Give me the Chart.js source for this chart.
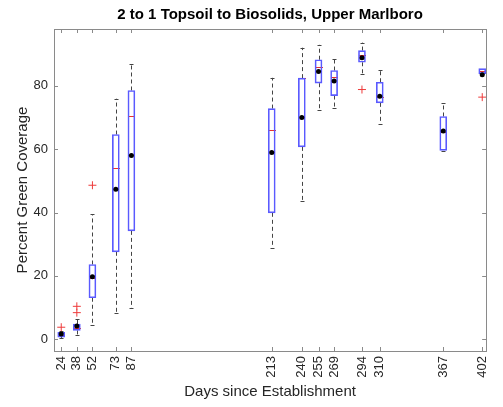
<!DOCTYPE html>
<html>
<head>
<meta charset="utf-8">
<script src="https://cdn.jsdelivr.net/npm/chart.js@4"></script>
<style>
  html, body { margin: 0; padding: 0; background: #fff; }
  #wrap { width: 503px; height: 407px; }
</style>
</head>
<body>
<div id="wrap"><canvas id="chart" width="503" height="407"></canvas></div>
<script>
// days since establishment, one box per sampling date
const days = [24, 38, 52, 73, 87, 213, 240, 255, 269, 294, 310, 367, 402];
const whiskerLow  = [0.3, 1.2, 4.5, 8.2, 9.8, 28.9, 43.6, 72.2, 73.1, 83.6, 68.0, 59.4, 83.8];
const q1          = [0.7, 2.8, 13.1, 27.6, 34.2, 39.9, 60.7, 80.8, 76.9, 87.4, 74.6, 59.6, 83.8];
const medians     = [1.2, 3.6, 19.2, 53.9, 70.3, 66.1, 82.4, 85.9, 82.9, 89.8, 76.6, 65.4, 84.6];
const q3          = [2.2, 4.8, 23.6, 64.6, 78.5, 72.8, 82.4, 88.2, 84.8, 91.1, 81.1, 70.3, 85.4];
const whiskerHigh = [2.6, 6.4, 39.4, 75.9, 86.9, 82.5, 92.0, 92.9, 88.5, 93.6, 85.1, 74.5, 85.4];
const means       = [1.7, 4.2, 19.7, 47.3, 58.0, 58.9, 70.0, 84.5, 81.5, 88.8, 76.7, 65.7, 83.5];
const outlierDays   = [24, 38, 38, 52, 294, 402];
const outlierValues = [3.8, 8.4, 10.4, 48.6, 78.8, 76.4];
const yTicks = [0, 20, 40, 60, 80];

const BOX_W = 7;
const textColor = '#262626';
const axisColor = '#8a8a8a';

// whiskers, caps, medians, axis frame and inward ticks
const boxPlotExtras = {
  id: 'boxPlotExtras',
  beforeDatasetsDraw(chart) {
    const { ctx, scales: { x, y } } = chart;
    ctx.save();
    ctx.lineWidth = 1;
    days.forEach((d, i) => {
      const px = Math.round(x.getPixelForValue(d)) + 0.5;
      const yLo = y.getPixelForValue(whiskerLow[i]);
      const yQ1 = y.getPixelForValue(q1[i]);
      const yQ3 = y.getPixelForValue(q3[i]);
      const yHi = y.getPixelForValue(whiskerHigh[i]);
      ctx.strokeStyle = '#444';
      ctx.setLineDash([4, 3]);
      ctx.beginPath();
      if (yLo - yQ1 > 1) { ctx.moveTo(px, yQ1); ctx.lineTo(px, yLo); }
      if (yQ3 - yHi > 1) { ctx.moveTo(px, yQ3); ctx.lineTo(px, yHi); }
      ctx.stroke();
      ctx.setLineDash([]);
      ctx.beginPath();
      ctx.moveTo(px - 2, Math.round(yLo) + 0.5); ctx.lineTo(px + 2, Math.round(yLo) + 0.5);
      ctx.moveTo(px - 2, Math.round(yHi) + 0.5); ctx.lineTo(px + 2, Math.round(yHi) + 0.5);
      ctx.stroke();
      const yMed = Math.round(y.getPixelForValue(medians[i])) + 0.5;
      ctx.strokeStyle = '#e8312f';
      ctx.beginPath();
      ctx.moveTo(px - BOX_W / 2, yMed);
      ctx.lineTo(px + BOX_W / 2, yMed);
      ctx.stroke();
    });
    ctx.restore();
  },
  afterDraw(chart) {
    const { ctx, chartArea: a, scales: { x, y } } = chart;
    ctx.save();
    ctx.strokeStyle = axisColor;
    ctx.lineWidth = 1;
    ctx.strokeRect(Math.round(a.left) + 0.5, Math.round(a.top) + 0.5,
      Math.round(a.right - a.left), Math.round(a.bottom - a.top));
    ctx.beginPath();
    yTicks.forEach(v => {
      const py = Math.round(y.getPixelForValue(v)) + 0.5;
      ctx.moveTo(a.left, py); ctx.lineTo(a.left + 4, py);
      ctx.moveTo(a.right, py); ctx.lineTo(a.right - 4, py);
    });
    days.forEach(d => {
      const px = Math.round(x.getPixelForValue(d)) + 0.5;
      ctx.moveTo(px, a.bottom); ctx.lineTo(px, a.bottom - 4);
      ctx.moveTo(px, a.top); ctx.lineTo(px, a.top + 4);
    });
    ctx.stroke();
    ctx.restore();
  }
};

const font = 'Arial, "Liberation Sans", Helvetica, sans-serif';

new Chart(document.getElementById('chart'), {
  type: 'bar',
  data: {
    datasets: [
      {
        type: 'scatter',
        label: 'mean',
        data: days.map((d, i) => ({ x: d, y: means[i] })),
        pointStyle: 'circle',
        pointRadius: 2.5,
        backgroundColor: '#000',
        borderColor: '#000',
        borderWidth: 0,
        order: 0
      },
      {
        type: 'scatter',
        label: 'outliers',
        data: outlierDays.map((d, i) => ({ x: d, y: outlierValues[i] })),
        pointStyle: 'cross',
        pointRadius: 4,
        borderColor: '#ee3b3b',
        borderWidth: 1,
        order: 1
      },
      {
        type: 'bar',
        label: 'box',
        data: days.map((d, i) => ({ x: d, y: [q1[i], q3[i]] })),
        barThickness: BOX_W,
        backgroundColor: 'rgba(0,0,0,0)',
        borderColor: '#5a5aff',
        borderWidth: 1,
        borderSkipped: false,
        order: 2
      }
    ]
  },
  options: {
    responsive: false,
    animation: false,
    layout: { padding: { left: 10, right: 3, top: 0, bottom: 2 } },
    plugins: {
      legend: { display: false },
      tooltip: { enabled: false },
      title: {
        display: true,
        fullSize: false,
        text: '2 to 1 Topsoil to Biosolids, Upper Marlboro',
        color: '#000',
        font: { family: font, size: 15, weight: 'bold' },
        padding: { top: 6, bottom: 5 }
      }
    },
    scales: {
      x: {
        type: 'linear',
        offset: false,
        min: 17.5,
        max: 405.5,
        afterBuildTicks: s => { s.ticks = days.map(v => ({ value: v })); },
        afterFit: s => { s.height = 54; },
        grid: { display: false, drawTicks: false, offset: false },
        border: { display: false },
        ticks: {
          autoSkip: false,
          minRotation: 90,
          maxRotation: 90,
          padding: 5,
          color: textColor,
          font: { family: font, size: 13 },
          callback: v => String(v)
        },
        title: {
          display: true,
          text: 'Days since Establishment',
          color: textColor,
          font: { family: font, size: 15 },
          padding: { top: 2, bottom: 4 }
        }
      },
      y: {
        min: -3.7,
        max: 97.9,
        afterBuildTicks: s => { s.ticks = yTicks.map(v => ({ value: v })); },
        afterFit: s => { s.width = 44; },
        grid: { display: false, drawTicks: false },
        border: { display: false },
        ticks: {
          padding: 6,
          color: textColor,
          font: { family: font, size: 13 }
        },
        title: {
          display: true,
          text: 'Percent Green Coverage',
          color: textColor,
          font: { family: font, size: 15 },
          padding: 4
        }
      }
    }
  },
  plugins: [boxPlotExtras]
});
</script>
</body>
</html>
